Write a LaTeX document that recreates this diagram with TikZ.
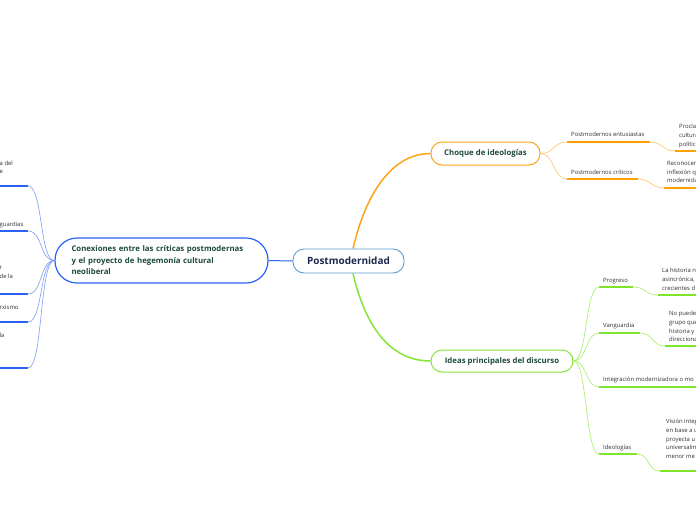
\documentclass[tikz,border=0pt]{standalone}
\usepackage{fontspec}
\setmainfont{Open Sans}
\definecolor{txt}{HTML}{333333}
\definecolor{navy}{HTML}{1B2A4E}
\definecolor{ngreen}{HTML}{1E4A3C}
\definecolor{rootb}{HTML}{5A9FD6}
\definecolor{bb}{HTML}{2D63F5}
\definecolor{bl}{HTML}{7C9CF5}
\definecolor{ob}{HTML}{FFA31A}
\definecolor{ou}{HTML}{FF9F00}
\definecolor{ol}{HTML}{FFC56B}
\definecolor{gb}{HTML}{86E637}
\definecolor{gu}{HTML}{7FE52B}
\definecolor{gl}{HTML}{A6EE6A}
\begin{document}
\begin{tikzpicture}[x=1pt,y=-1pt,
  topic/.style={draw, line width=1pt, inner sep=0, text=ngreen,
    font=\bfseries\fontsize{7.8}{11.5}\selectfont},
  small/.style={font=\fontsize{5.9}{8.7}\selectfont, text=txt, align=left,
    inner sep=0, anchor=north west},
  uline/.style={line width=1.8pt},
  curve/.style={line width=0.6pt}]
\fill[white] (0,0) rectangle (696,520);
\useasboundingbox (0,0) rectangle (696,520);
\clip (0,0) rectangle (696,520);

% main nodes
\node[draw=rootb, line width=0.9pt, rounded corners=11pt, minimum width=111pt,
  minimum height=24pt, inner sep=0, text=navy,
  font=\bfseries\fontsize{10}{12}\selectfont] (root) at (348.5,261) {Postmodernidad};
\node[topic, draw=bb, line width=1.2pt, rounded corners=22pt, align=left,
  text width=180pt, inner xsep=16.5pt, minimum height=45pt] (conx) at (161.5,260.5)
  {Conexiones entre las críticas postmodernas\\y el proyecto de hegemonía cultural\\neoliberal};
\node[topic, draw=ob, rounded corners=11pt, minimum width=109pt, minimum height=23pt]
  (choque) at (485.5,153.5) {Choque de ideologías};
\node[topic, draw=gb, rounded corners=11pt, minimum width=142pt, minimum height=22pt]
  (ideas) at (502,361) {Ideas principales del discurso};

% root connectors
\draw[bb, line width=1pt] (root.west) -- (conx.east);
\draw[ob, line width=1.5pt] ([xshift=4.5pt]root.north) .. controls +(14,-60) and +(-36,0) .. (choque.west);
\draw[gb, line width=1.5pt] ([xshift=4.5pt]root.south) .. controls +(14,60) and +(-36,0) .. (ideas.west);

% left branch (cropped)
\node[small] (l1) at (-0.5,160.5) {a del\\e};
\node[small] (l2) at (-0.5,222) {guardias};
\node[small] (l3) at (-0.5,266.5) {r\\de la};
\node[small] (l4) at (-0.5,304.5) {rxismo};
\node[small] (l5) at (-0.5,333) {la};
\foreach \i/\y in {1/186,2/231,3/294,4/322,5/368}{
  \coordinate (L\i s) at (-2,\y);
  \coordinate (L\i e) at (28,\y);
  \draw[bb, uline] (L\i s) -- (L\i e);
  \draw[bl, curve] (conx.west) .. controls +(-15,0) and +(15,0) .. (L\i e);
}

% orange branch
\node[small] (ent) at (571,132) {Postmodernos entusiastas};
\node[small] (cri) at (571,170) {Postmodernos críticos};
\coordinate (ents) at (567,142); \coordinate (ente) at (650,142);
\coordinate (cris) at (567,179); \coordinate (crie) at (638,179);
\draw[ou, uline] (ents) -- (ente);
\draw[ou, uline] (cris) -- (crie);
\draw[ol, curve] (choque.east) .. controls +(14,0) and +(-14,0) .. (ents);
\draw[ol, curve] (choque.east) .. controls +(14,0) and +(-14,0) .. (cris);
\node[small] (procla) at (679,124) {Procla\\cultura\\polític};
\node[small] (recon) at (667,161) {Reconocen\\inflexión q\\modernida};
\coordinate (p3s) at (675,151); \coordinate (p3e) at (700,151);
\coordinate (r3s) at (664,188); \coordinate (r3e) at (700,188);
\draw[ou, uline] (p3s) -- (p3e);
\draw[ou, uline] (r3s) -- (r3e);
\draw[ol, curve] (ente) .. controls +(13,0) and +(-13,0) .. (p3s);
\draw[ol, curve] (crie) .. controls +(13,0) and +(-13,0) .. (r3s);

% green branch
\node[small] (prog) at (603,278) {Progreso};
\node[small] (vang) at (603,323) {Vanguardia};
\node[small] (integ) at (603,377) {Integración modernizadora o mo};
\node[small] (ideol) at (603,445) {Ideologías};
\coordinate (pgs) at (599,287); \coordinate (pge) at (633,287);
\coordinate (vgs) at (599,333); \coordinate (vge) at (640,333);
\coordinate (ins) at (599,387); \coordinate (ine) at (700,387);
\coordinate (ids) at (599,454); \coordinate (ide) at (637,454);
\draw[gu, uline] (pgs) -- (pge);
\draw[gu, uline] (vgs) -- (vge);
\draw[gu, uline] (ins) -- (ine);
\draw[gu, uline] (ids) -- (ide);
\foreach \c in {pgs,vgs,ins,ids}{
  \draw[gl, curve] (ideas.east) .. controls +(14,0) and +(-14,0) .. (\c);
}
\node[small] (hist) at (662,268) {La historia n\\asincrónica,\\crecientes d};
\node[small] (nop) at (669,311) {No puede\\grupo que\\historia y\\direcciona};
\node[small] (vis) at (666,419) {Visión integ\\en base a u\\proyecta u\\universalm\\menor me};
\coordinate (h3s) at (658,295); \coordinate (h3e) at (700,295);
\coordinate (n3s) at (665,346); \coordinate (n3e) at (700,346);
\coordinate (v3s) at (660,471); \coordinate (v3e) at (700,471);
\draw[gu, uline] (h3s) -- (h3e);
\draw[gu, uline] (n3s) -- (n3e);
\draw[gu, uline] (v3s) -- (v3e);
\draw[gl, curve] (pge) .. controls +(13,0) and +(-13,0) .. (h3s);
\draw[gl, curve] (vge) .. controls +(13,0) and +(-13,0) .. (n3s);
\draw[gl, curve] (ide) .. controls +(13,0) and +(-13,0) .. (v3s);
\end{tikzpicture}
\end{document}
